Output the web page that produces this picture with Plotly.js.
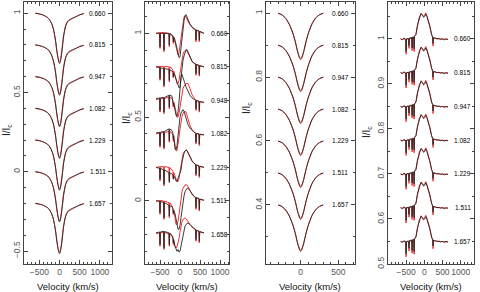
<!DOCTYPE html>
<html><head><meta charset="utf-8">
<script src="https://cdn.plot.ly/plotly-3.0.1.min.js"></script>
<style>html,body{margin:0;padding:0;background:#fff}#chart{width:480px;height:292px}</style>
</head><body><div id="chart"></div>
<script>
// ---------- shared ----------
const phasesA = ['0.660','0.815','0.947','1.082','1.229','1.511','1.657'];
const phasesB = ['0.660','0.815','0.948','1.082','1.229','1.511','1.658'];

// ---------- panel 1 (broad absorption) ----------
const levels1 = [1.0, 0.8, 0.6, 0.4, 0.2, 0.0, -0.2];
const v1 = [-600,-500,-400,-300,-250,-200,-150,-100,-70,-40,-15,0,15,40,70,100,150,200,250,300,400,500,600];
const obs1 = [1.0,0.996,0.988,0.974,0.96,0.938,0.90,0.83,0.77,0.72,0.69,0.683,0.69,0.72,0.78,0.85,0.92,0.95,0.96,0.967,0.978,0.99,0.998];
const mod1 = [1.0,0.996,0.988,0.974,0.96,0.937,0.898,0.828,0.77,0.722,0.695,0.692,0.70,0.735,0.795,0.86,0.918,0.944,0.955,0.963,0.977,0.99,0.998];

// ---------- panel 2 (P Cygni-like) ----------
const levels2 = [1.0, 0.8, 0.6, 0.4, 0.2, 0.0, -0.2];
const v2 = [-600,-510,-500,-490,-410,-400,-390,-277,-267,-257,-200,-177,-167,-157,-125,-100,-75,-50,-25,0,25,50,75,100,125,150,175,200,250,300,350,390,400,410,473,483,493,550,600];
const obs2_0660 = [1.0,1.0,0.92,1.0,1.0,0.90,1.0,0.998,0.93,0.998,0.99,0.985,0.95,0.98,0.96,0.94,0.91,0.88,0.855,0.86,0.905,0.96,1.02,1.075,1.105,1.112,1.098,1.08,1.055,1.038,1.028,1.022,0.96,1.02,1.015,0.96,1.012,1.005,1.0];
const mod2_0660 = [1.0,1.005,0.91,1.005,1.005,0.89,1.005,1.0,0.92,1.0,0.985,0.975,0.94,0.97,0.945,0.92,0.885,0.872,0.885,0.93,0.99,1.04,1.075,1.098,1.105,1.098,1.085,1.07,1.05,1.035,1.025,1.02,0.95,1.018,1.012,0.95,1.01,1.003,1.0];
const obs2_0815 = [1.0,0.995,0.93,0.995,0.99,0.89,0.99,0.985,0.92,0.982,0.975,0.968,0.94,0.962,0.945,0.93,0.91,0.89,0.875,0.88,0.94,1.0,1.04,1.065,1.085,1.1,1.103,1.09,1.055,1.035,1.022,1.018,0.96,1.015,1.01,0.955,1.008,1.003,1.0];
const mod2_0815 = [1.0,1.003,0.92,1.003,1.003,0.88,1.003,1.0,0.91,1.0,0.99,0.98,0.935,0.975,0.95,0.92,0.90,0.90,0.92,0.96,1.01,1.05,1.075,1.09,1.1,1.102,1.095,1.08,1.05,1.032,1.02,1.016,0.95,1.013,1.008,0.945,1.006,1.002,1.0];
const obs2_0948 = [1.01,1.015,0.94,1.015,1.018,0.93,1.018,1.03,0.96,1.033,1.025,1.0,0.97,0.985,0.95,0.91,0.905,0.93,0.99,1.07,1.14,1.155,1.14,1.12,1.10,1.08,1.065,1.05,1.03,1.015,1.005,1.0,0.95,0.998,0.995,0.94,0.993,0.99,0.988];
const mod2_0948 = [1.005,1.01,0.93,1.01,1.012,0.92,1.012,1.02,0.95,1.02,1.01,1.0,0.96,0.99,0.96,0.93,0.90,0.90,0.92,0.96,1.0,1.04,1.07,1.085,1.095,1.10,1.102,1.10,1.07,1.035,1.015,1.005,0.94,1.0,0.995,0.93,0.993,0.99,0.988];
const obs2_1082 = [1.005,1.01,0.93,1.01,1.015,0.92,1.015,1.03,0.96,1.03,1.02,1.005,0.97,0.99,0.91,0.905,0.93,0.99,1.06,1.10,1.125,1.14,1.145,1.135,1.115,1.09,1.07,1.055,1.035,1.02,1.01,1.005,0.95,1.003,1.0,0.94,0.998,0.995,0.995];
const mod2_1082 = [1.0,1.005,0.92,1.005,1.008,0.91,1.008,1.015,0.95,1.015,1.005,0.99,0.955,0.98,0.935,0.90,0.90,0.93,0.98,1.03,1.075,1.105,1.125,1.133,1.135,1.13,1.11,1.085,1.05,1.025,1.012,1.005,0.94,1.002,1.0,0.93,0.998,0.995,0.995];
const obs2_1229 = [1.0,0.995,0.93,0.995,0.985,0.90,0.985,0.97,0.91,0.968,0.96,0.955,0.93,0.95,0.935,0.92,0.918,0.935,0.96,0.965,0.985,1.03,1.065,1.085,1.098,1.105,1.102,1.09,1.06,1.04,1.025,1.018,0.96,1.015,1.01,0.95,1.008,1.003,1.0];
const mod2_1229 = [1.0,1.005,0.92,1.005,1.005,0.89,1.005,1.0,0.92,1.0,0.985,0.975,0.935,0.97,0.95,0.93,0.915,0.915,0.935,0.975,1.02,1.055,1.078,1.092,1.10,1.103,1.10,1.088,1.058,1.038,1.024,1.017,0.95,1.014,1.009,0.94,1.007,1.002,1.0];
const obs2_1511 = [1.0,0.998,0.93,0.998,0.99,0.90,0.99,0.975,0.91,0.973,0.965,0.955,0.925,0.945,0.925,0.895,0.86,0.832,0.83,0.855,0.90,0.95,0.995,1.03,1.055,1.068,1.075,1.077,1.06,1.04,1.028,1.022,0.96,1.02,1.015,0.95,1.012,1.008,1.005];
const mod2_1511 = [1.0,1.003,0.92,1.003,1.0,0.89,1.0,0.99,0.90,0.99,0.97,0.955,0.92,0.945,0.90,0.86,0.86,0.88,0.92,0.97,1.02,1.055,1.075,1.088,1.095,1.097,1.095,1.085,1.06,1.04,1.027,1.02,0.95,1.018,1.013,0.94,1.01,1.006,1.003];
const obs2_1658 = [1.01,1.015,0.94,1.015,1.02,0.92,1.018,1.01,0.94,1.008,0.995,0.985,0.95,0.97,0.93,0.91,0.90,0.91,0.895,0.90,0.93,0.965,1.0,1.03,1.05,1.06,1.066,1.069,1.06,1.045,1.035,1.03,0.97,1.025,1.02,0.96,1.017,1.012,1.01];
const mod2_1658 = [1.005,1.01,0.93,1.01,1.012,0.91,1.012,1.005,0.93,1.005,0.99,0.975,0.94,0.96,0.925,0.92,0.925,0.945,0.975,1.015,1.05,1.075,1.09,1.097,1.099,1.095,1.085,1.075,1.06,1.045,1.035,1.03,0.96,1.025,1.02,0.95,1.017,1.012,1.01];
const obs2 = [obs2_0660, obs2_0815, obs2_0948, obs2_1082, obs2_1229, obs2_1511, obs2_1658];
const mod2 = [mod2_0660, mod2_0815, mod2_0948, mod2_1082, mod2_1229, mod2_1511, mod2_1658];

// ---------- panel 3 (narrow absorption) ----------
const levels3 = [1.0, 0.9, 0.8, 0.7, 0.6, 0.5, 0.4];
const v3 = [-300,-250,-200,-150,-100,-70,-40,-15,0,15,40,70,100,150,200,250,300];
const obs3 = [1.0,0.995,0.984,0.965,0.935,0.91,0.88,0.862,0.858,0.862,0.88,0.91,0.935,0.967,0.985,0.995,1.0];
const mod3 = [1.0,0.995,0.984,0.964,0.934,0.908,0.878,0.859,0.854,0.859,0.879,0.91,0.936,0.966,0.985,0.995,1.0];

// ---------- panel 4 (double-peaked emission) ----------
const levels4 = [1.0, 0.925, 0.85, 0.775, 0.70, 0.625, 0.55];
const v4 = [-650,-600,-560,-510,-500,-490,-430,-420,-410,-345,-335,-325,-290,-280,-270,-230,-190,-140,-90,-50,-20,10,40,70,100,150,200,230,240,250,300,350,400,450,500,550,600,650];
const obs4 = [1.0,0.998,1.002,0.999,0.972,1.0,1.001,0.985,1.002,1.003,0.98,1.004,1.004,0.978,1.006,1.01,1.03,1.046,1.057,1.053,1.048,1.05,1.055,1.05,1.043,1.028,1.01,1.004,0.99,1.003,1.002,1.0,1.001,0.999,1.0,0.998,1.0,0.999];
const mod4 = [1.0,0.999,1.0,0.999,0.966,1.0,1.0,0.979,1.0,1.002,0.974,1.003,1.004,0.972,1.005,1.01,1.03,1.048,1.055,1.052,1.05,1.053,1.058,1.052,1.045,1.03,1.01,1.003,0.984,1.002,1.001,1.0,1.0,1.0,1.0,0.999,1.0,0.999];

// ---------- axis ranges / label positions ----------
const xr = [[-880,1300],[-875,1225],[-461,722],[-997,1365]];
const yr = [[-0.582,1.071],[-0.376,1.187],[0.215,1.035],[0.5,1.082]];
const xdom = [[24,112],[145,229],[266,355],[388,474]];
const labelX = [950, 975, 523, 1050];

const W = 480, H = 292;
const RED = '#ee1c1c', BLK = '#262626';
const traces = [];
function addPanel(p, v, obsArr, modArr, levels, shape) {
  const xa = 'x' + (p === 0 ? '' : p + 1), ya = 'y' + (p === 0 ? '' : p + 1);
  for (let i = 0; i < levels.length; i++) {
    const o = obsArr[i], m = modArr[i];
    const sh = levels[i] - 1;
    traces.push({x: v, y: m.map(f => f + sh), xaxis: xa, yaxis: ya, mode: 'lines',
      line: {color: RED, width: 0.9, shape: shape, smoothing: 0.6}, hoverinfo: 'skip', showlegend: false});
    traces.push({x: v, y: o.map(f => f + sh), xaxis: xa, yaxis: ya, mode: 'lines',
      line: {color: BLK, width: 0.9, shape: shape, smoothing: 0.6}, hoverinfo: 'skip', showlegend: false});
  }
}
const rep = (a) => levels1.map(() => a);
addPanel(0, v1, rep(obs1), rep(mod1), levels1, 'spline');
addPanel(1, v2, obs2, mod2, levels2, 'linear');
addPanel(2, v3, rep(obs3), rep(mod3), levels3, 'spline');
addPanel(3, v4, rep(obs4), rep(mod4), levels4, 'linear');

const tickFont = {family: 'Liberation Sans, Arial, sans-serif', size: 8.5, color: '#555'};
function xaxis(p) {
  return {domain: [xdom[p][0]/W, xdom[p][1]/W], range: xr[p], anchor: 'y' + (p === 0 ? '' : p + 1),
    showline: true, linecolor: '#444', linewidth: 1, mirror: 'allticks', ticks: 'inside', ticklen: 4,
    tickcolor: '#444', dtick: 500, tick0: 0, tickangle: 0,
    minor: {ticks: 'inside', ticklen: 2, dtick: 100, tickcolor: '#444'},
    showgrid: false, zeroline: false, tickfont: tickFont, fixedrange: true};
}
const ydt = [[0.5,0.1],[0.5,0.1],[0.2,0.1],[0.1,0.05]];
function yaxis(p) {
  return {domain: [(H-264)/H, (H-2)/H], range: yr[p], anchor: 'x' + (p === 0 ? '' : p + 1),
    showline: true, linecolor: '#444', linewidth: 1, mirror: 'allticks', ticks: 'inside', ticklen: 4,
    tickcolor: '#444', dtick: ydt[p][0], tick0: 0,
    minor: {ticks: 'inside', ticklen: 2, dtick: ydt[p][1], tickcolor: '#444'},
    tickangle: -90, showgrid: false, zeroline: false, tickfont: tickFont, fixedrange: true};
}
const layout = {width: W, height: H, margin: {l: 0, r: 0, t: 0, b: 0}, paper_bgcolor: '#fff', plot_bgcolor: '#fff',
  showlegend: false, annotations: []};
for (let p = 0; p < 4; p++) {
  layout['xaxis' + (p === 0 ? '' : p + 1)] = xaxis(p);
  layout['yaxis' + (p === 0 ? '' : p + 1)] = yaxis(p);
}
const allLevels = [levels1, levels2, levels3, levels4];
const allPhases = [phasesA, phasesB, phasesA, phasesA];
for (let p = 0; p < 4; p++) {
  const xa = 'x' + (p === 0 ? '' : p + 1), ya = 'y' + (p === 0 ? '' : p + 1);
  allPhases[p].forEach((t, i) => {
    layout.annotations.push({x: labelX[p], y: allLevels[p][i], xref: xa, yref: ya, text: t, showarrow: false,
      xanchor: 'center', yanchor: 'middle', font: {family: 'Liberation Sans, Arial, sans-serif', size: 6.5, color: '#000'}});
  });
}
const titleFont = {family: 'Liberation Sans, Arial, sans-serif', size: 9.5, color: '#111'};
const xTitleX = [68, 187, 310, 431];
const yTitle = [[7, 130], [127, 118], [247, 108], [367, 132]];
for (let p = 0; p < 4; p++) {
  layout.annotations.push({x: xTitleX[p]/W, y: (H-286)/H, xref: 'paper', yref: 'paper', text: 'Velocity (km/s)',
    showarrow: false, xanchor: 'center', yanchor: 'middle', font: titleFont});
  layout.annotations.push({x: yTitle[p][0]/W, y: (H-yTitle[p][1])/H, xref: 'paper', yref: 'paper', text: 'I/I<sub>c</sub>',
    showarrow: false, xanchor: 'center', yanchor: 'middle', textangle: -90,
    font: {family: 'Liberation Sans, Arial, sans-serif', size: 10, color: '#111'}});
}
Plotly.newPlot('chart', traces, layout, {staticPlot: true, displayModeBar: false});
</script></body></html>
